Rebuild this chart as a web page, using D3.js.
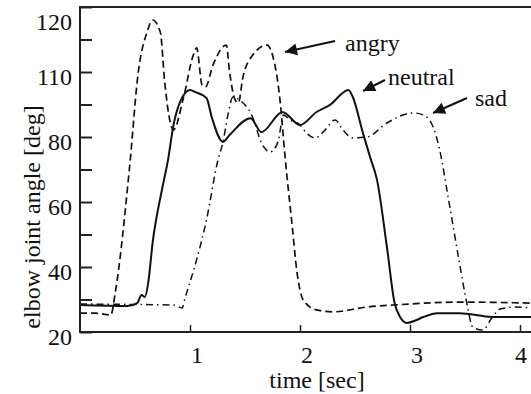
<!DOCTYPE html>
<html>
<head>
<meta charset="utf-8">
<script src="https://cdn.jsdelivr.net/npm/d3@7"></script>
<style>
  body { margin: 0; background: #fff; }
  text { font-family: "Liberation Serif", "Times New Roman", serif; fill: #111; }
</style>
</head>
<body>
<div id="chart"></div>
<script>
// time [sec] / elbow angle [deg] pairs
var angryT = [0, 0.14, 0.28, 0.32, 0.45, 0.53, 0.61, 0.66, 0.73, 0.77, 0.82, 0.85, 0.94, 1.03, 1.06, 1.11, 1.14, 1.21, 1.33, 1.36, 1.41, 1.44, 1.48, 1.57, 1.70, 1.75, 1.82, 1.86, 1.93, 1.97, 2.03, 2.15, 2.30, 2.61, 2.85, 3.45, 4.1];
var angryV = [25.8, 25.8, 25.2, 32, 70.5, 100, 112.3, 116, 112.3, 96.9, 84.6, 82.2, 92, 105.2, 107.4, 96, 95.4, 102.2, 108.3, 100, 91.4, 90.5, 98.2, 105.2, 108.3, 105.2, 90.8, 75.4, 52.3, 39.1, 29.8, 26.8, 26.2, 27.7, 28.3, 29.2, 28.9];

var neutralT = [0, 0.43, 0.52, 0.56, 0.59, 0.62, 0.66, 0.75, 0.80, 0.85, 0.91, 1.0, 1.05, 1.15, 1.2, 1.3, 1.36, 1.55, 1.65, 1.84, 2.0, 2.15, 2.27, 2.44, 2.48, 2.57, 2.64, 2.7, 2.79, 2.86, 2.91, 2.97, 3.06, 3.12, 3.25, 3.45, 3.75, 4.1];
var neutralV = [28.3, 28.0, 28.9, 31.4, 30.8, 35.1, 47.4, 64.6, 72.9, 83.7, 90.8, 94.5, 93.8, 92, 85.8, 78.5, 80.6, 85.8, 81.5, 87.7, 83.7, 87.7, 89.8, 94.5, 92.3, 81.5, 73.5, 66.8, 46.2, 28.9, 24.6, 22.8, 23.7, 24.6, 25.8, 25.8, 24.6, 24.6];

var sadT = [0, 0.85, 0.93, 0.95, 1.06, 1.15, 1.25, 1.3, 1.35, 1.39, 1.45, 1.56, 1.66, 1.73, 1.8, 1.85, 1.91, 2.0, 2.06, 2.14, 2.21, 2.32, 2.39, 2.48, 2.61, 2.79, 3.03, 3.12, 3.21, 3.27, 3.34, 3.45, 3.52, 3.57, 3.66, 3.75, 3.82, 3.97, 4.1];
var sadV = [28.6, 28.3, 27.4, 29.8, 42.2, 54.5, 72.3, 78.5, 87.7, 92.3, 91.4, 86.8, 77.5, 75.4, 78.5, 86.8, 85.2, 83.7, 81.2, 79.7, 81.5, 85.2, 82.2, 79.7, 80, 84.3, 87.4, 86.8, 83.1, 76, 62.8, 41.2, 28.3, 21.5, 20.6, 24.6, 27.1, 27.7, 27.4];

var yTickValues = [20, 40, 60, 80, 100, 120];
var yTickLabels = ["20", "40", "60", "80", "110", "120"];
var xTickValues = [1, 2, 3, 4];

var svgWidth = 531;
var svgHeight = 394;

var margin = { top: 7, left: 80, bottom: 62 };
var chartHeight = svgHeight - margin.top - margin.bottom;

var svg = d3.select("#chart")
  .append("svg")
  .attr("width", svgWidth)
  .attr("height", svgHeight);

var xScale = d3.scaleLinear().domain([0, 4.1]).range([margin.left, 531]);
var yScale = d3.scaleLinear().domain([20, 120]).range([margin.top + chartHeight, margin.top]);

// curves
var line = d3.line()
  .x(function(d) { return xScale(d[0]); })
  .y(function(d) { return yScale(d[1]); })
  .curve(d3.curveMonotoneX);

var series = [
  { t: angryT, v: angryV, dash: "7,4", width: 1.7 },
  { t: neutralT, v: neutralV, dash: null, width: 2 },
  { t: sadT, v: sadV, dash: "7,4,1.5,4", width: 1.5 }
];

series.forEach(function(s) {
  var pts = s.t.map(function(t, i) { return [t, s.v[i]]; });
  svg.append("path")
    .datum(pts)
    .attr("d", line)
    .attr("fill", "none")
    .attr("stroke", "#111")
    .attr("stroke-width", s.width)
    .attr("stroke-dasharray", s.dash);
});

// frame
var y0 = yScale(20), y1 = yScale(120);
svg.append("path")
  .attr("d", "M" + (svgWidth + 5) + "," + y1 + "H" + xScale(0) + "V" + y0 + "H" + (svgWidth + 5))
  .attr("fill", "none")
  .attr("stroke", "#222")
  .attr("stroke-width", 2);

// inward ticks
var leftAxis = d3.axisRight(yScale).tickValues(d3.range(20, 121, 10)).tickSize(12).tickFormat("");
var yAxisG = svg.append("g").attr("transform", "translate(" + xScale(0) + ",0)").call(leftAxis);
yAxisG.select(".domain").remove();
yAxisG.selectAll("line").attr("stroke", "#222").attr("stroke-width", 2);

var bottomAxis = d3.axisTop(xScale).tickValues(xTickValues).tickSize(7).tickFormat("");
var xAxisG = svg.append("g").attr("transform", "translate(0," + y0 + ")").call(bottomAxis);
xAxisG.select(".domain").remove();
xAxisG.selectAll("line").attr("stroke", "#222").attr("stroke-width", 1.5);

// tick labels
svg.selectAll(".ylab")
  .data(yTickValues)
  .enter()
  .append("text")
  .attr("x", 72)
  .attr("y", function(d) { return Math.max(yScale(d) + 5, 22); })
  .attr("dy", "0.35em")
  .attr("text-anchor", "end")
  .style("font-size", "24px")
  .text(function(d, i) { return yTickLabels[i]; });

svg.selectAll(".xlab")
  .data(xTickValues)
  .enter()
  .append("text")
  .attr("x", function(d) { return Math.min(xScale(d) + 7, 521); })
  .attr("y", 355)
  .attr("dy", "0.35em")
  .attr("text-anchor", "middle")
  .style("font-size", "24px")
  .text(function(d) { return d; });

// axis titles
svg.append("text")
  .attr("transform", "translate(32," + 217 + ") rotate(-90)")
  .attr("dy", "0.35em")
  .attr("text-anchor", "middle")
  .style("font-size", "24px")
  .text("elbow joint angle [deg]");

svg.append("text")
  .attr("x", 317)
  .attr("y", 380)
  .attr("dy", "0.35em")
  .attr("text-anchor", "middle")
  .style("font-size", "24px")
  .text("time [sec]");

// annotations with arrows
svg.append("defs").append("marker")
  .attr("id", "head")
  .attr("viewBox", "0 0 10 10")
  .attr("refX", 10)
  .attr("refY", 5)
  .attr("markerWidth", 7)
  .attr("markerHeight", 6)
  .attr("markerUnits", "strokeWidth")
  .attr("orient", "auto")
  .append("path")
  .attr("d", "M0,0L10,5L0,10z")
  .attr("fill", "#111");

var notes = [
  { text: "angry", tx: 345, ty: 43, x1: 335, y1: 41, x2: 285, y2: 52 },
  { text: "neutral", tx: 388, ty: 77, x1: 385, y1: 80, x2: 363, y2: 91 },
  { text: "sad", tx: 475, ty: 98, x1: 467, y1: 98, x2: 433, y2: 113 }
];

notes.forEach(function(n) {
  svg.append("line")
    .attr("x1", n.x1).attr("y1", n.y1)
    .attr("x2", n.x2).attr("y2", n.y2)
    .attr("stroke", "#111")
    .attr("stroke-width", 2)
    .attr("marker-end", "url(#head)");
  svg.append("text")
    .attr("x", n.tx)
    .attr("y", n.ty)
    .attr("dy", "0.35em")
    .style("font-size", "24px")
    .text(n.text);
});
</script>
</body>
</html>
